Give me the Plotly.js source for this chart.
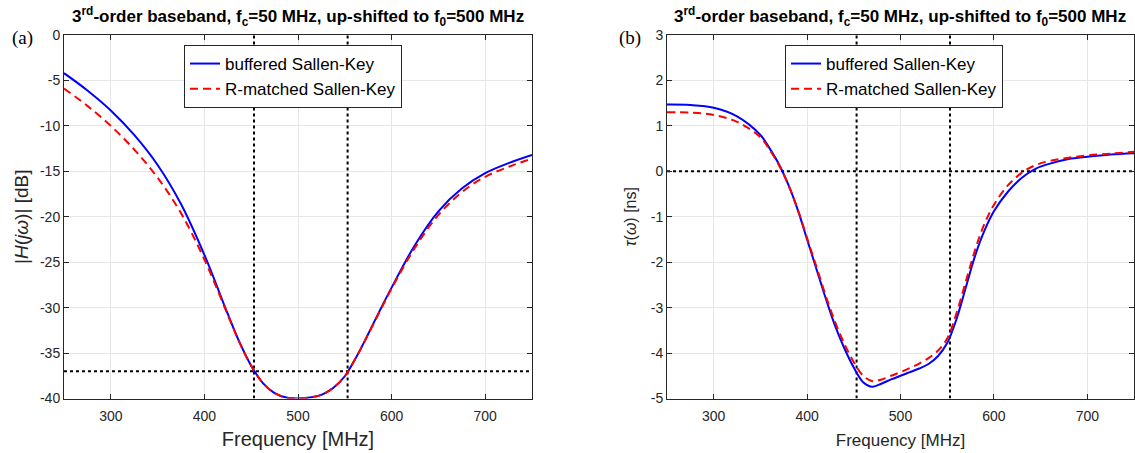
<!DOCTYPE html>
<html>
<head>
<meta charset="utf-8">
<script src="https://cdn.plot.ly/plotly-3.0.1.min.js"></script>
<style>html,body{margin:0;padding:0;background:#fff;}#plot{width:1135px;height:453px;}</style>
</head>
<body>
<div id="plot"></div>
<script>
// ---- data ----
const freqMag = [250, 275, 300, 325, 350, 375, 400, 425, 437.5, 450, 462.5, 475, 487.5, 500, 512.5, 525, 537.5, 550, 562.5, 575, 587.5, 600, 625, 650, 675, 700, 725, 750];
const magBuffered = [-4.2, -6.1, -8.3, -11.0, -14.3, -18.6, -24.2, -30.7, -33.8, -36.4, -38.3, -39.4, -39.9, -40.0, -39.9, -39.6, -38.85, -37.55, -35.4, -32.9, -30.3, -27.8, -23.1, -19.4, -16.9, -15.2, -14.1, -13.2];
const magRmatched = [-5.9, -7.8, -10.0, -12.6, -15.7, -19.6, -24.7, -30.8, -33.85, -36.4, -38.3, -39.4, -39.9, -40.0, -39.9, -39.6, -38.85, -37.55, -35.4, -32.95, -30.4, -27.9, -23.4, -19.8, -17.3, -15.6, -14.5, -13.6];

const freqDelay = [250, 275, 300, 325, 350, 360, 370, 380, 390, 400, 410, 420, 430, 440, 450, 460, 470, 480, 490, 500, 510, 520, 530, 540, 550, 560, 570, 580, 590, 600, 615, 630, 645, 660, 680, 700, 725, 750];
const delayBuffered = [1.47, 1.46, 1.40, 1.21, 0.80, 0.50, 0.15, -0.30, -0.85, -1.50, -2.15, -2.80, -3.40, -3.90, -4.32, -4.64, -4.74, -4.67, -4.58, -4.50, -4.42, -4.34, -4.24, -4.07, -3.78, -3.25, -2.55, -1.85, -1.30, -0.88, -0.45, -0.14, 0.06, 0.17, 0.27, 0.32, 0.37, 0.40];
const delayRmatched = [1.30, 1.29, 1.24, 1.09, 0.75, 0.47, 0.13, -0.30, -0.84, -1.47, -2.10, -2.74, -3.32, -3.80, -4.20, -4.50, -4.62, -4.58, -4.50, -4.42, -4.33, -4.23, -4.11, -3.95, -3.68, -3.12, -2.42, -1.72, -1.15, -0.74, -0.31, -0.03, 0.14, 0.23, 0.30, 0.35, 0.39, 0.43];

const markerFreqs = [453, 553];       // vertical dotted markers
const magLevel = -37;                 // horizontal dotted marker, left panel
const delayLevel = 0;                 // horizontal dotted marker, right panel

const xTicks = [300, 400, 500, 600, 700];
const magTicks = [0, -5, -10, -15, -20, -25, -30, -35, -40];
const magTickText = ['0', '-5', '-10', '-15', '-20', '-25', '-30', '-35', '-40'];
const delayTicks = [3, 2, 1, 0, -1, -2, -3, -4, -5];
const delayTickText = ['3', '2', '1', '0', '-1', '-2', '-3', '-4', '-5'];

const seriesNames = ['buffered Sallen-Key', 'R-matched Sallen-Key'];
const titleText = '3<sup>rd</sup>-order baseband, f<sub>c</sub>=50 MHz, up-shifted to f<sub>0</sub>=500 MHz';

// ---- styles ----
const blue = '#0000ff', red = '#ff0000';
const dotLine = {color: '#000000', width: 2, dash: 'dot'};
const SANS = 'Liberation Sans, Arial, sans-serif';
const tickFont = {family: SANS, size: 14, color: '#262626'};

function vlines(xa, ya, yr) {
  return markerFreqs.map(f => ({x: [f, f], y: yr, xaxis: xa, yaxis: ya, mode: 'lines', line: dotLine, showlegend: false, hoverinfo: 'skip'}));
}

const traces = [
  ...vlines('x', 'y', [-40, 0]),
  {x: [250, 750], y: [magLevel, magLevel], xaxis: 'x', yaxis: 'y', mode: 'lines', line: dotLine, showlegend: false},
  {x: freqMag, y: magBuffered, xaxis: 'x', yaxis: 'y', mode: 'lines', name: seriesNames[0], line: {color: blue, width: 2, shape: 'spline', smoothing: 1}, legend: 'legend'},
  {x: freqMag, y: magRmatched, xaxis: 'x', yaxis: 'y', mode: 'lines', name: seriesNames[1], line: {color: red, width: 2, dash: '8px,5px', shape: 'spline', smoothing: 1}, legend: 'legend'},
  ...vlines('x2', 'y2', [-5, 3]),
  {x: [250, 750], y: [delayLevel, delayLevel], xaxis: 'x2', yaxis: 'y2', mode: 'lines', line: dotLine, showlegend: false},
  {x: freqDelay, y: delayBuffered, xaxis: 'x2', yaxis: 'y2', mode: 'lines', name: seriesNames[0], line: {color: blue, width: 2, shape: 'spline', smoothing: 1}, legend: 'legend2'},
  {x: freqDelay, y: delayRmatched, xaxis: 'x2', yaxis: 'y2', mode: 'lines', name: seriesNames[1], line: {color: red, width: 2, dash: '8px,5px', shape: 'spline', smoothing: 1}, legend: 'legend2'}
];

const W = 1135, H = 453;
const yDom = [1 - 398.5 / H, 1 - 35 / H];
function xaxisDef(dom) {
  return {domain: dom, range: [250, 750], tickvals: xTicks, ticks: 'inside', ticklen: 5, tickcolor: '#262626',
    showline: true, linecolor: '#262626', linewidth: 1, mirror: 'ticks', showgrid: true, gridcolor: '#e6e6e6',
    zeroline: false, tickfont: tickFont, ticklabelstandoff: 5, fixedrange: true};
}
function yaxisDef(range, ticks, text, anchor) {
  return {domain: yDom, range: range, tickvals: ticks, ticktext: text, ticks: 'inside', ticklen: 5, tickcolor: '#262626', anchor: anchor,
    showline: true, linecolor: '#262626', linewidth: 1, mirror: 'ticks', showgrid: true, gridcolor: '#e6e6e6',
    zeroline: false, tickfont: tickFont, fixedrange: true};
}

const xa1 = xaxisDef([64 / W, 532 / W]);
xa1.title = {text: 'Frequency [MHz]', font: {family: SANS, size: 20, color: '#262626'}, standoff: 8};
const xa2 = xaxisDef([667 / W, 1134 / W]);
xa2.anchor = 'y2';
xa2.title = {text: 'Frequency [MHz]', font: {family: SANS, size: 17, color: '#262626'}, standoff: 10};
const ya1 = yaxisDef([-40, 0], magTicks, magTickText, 'x');
ya1.title = {text: '|<i>H</i>(<i>j\u03c9</i>)| [dB]', font: {family: SANS, size: 19, color: '#262626'}, standoff: 6};
const ya2 = yaxisDef([-5, 3], delayTicks, delayTickText, 'x2');
ya2.title = {text: '<i>\u03c4</i>(<i>\u03c9</i>) [ns]', font: {family: SANS, size: 16, color: '#262626'}, standoff: 10};

const legendBase = {bgcolor: '#ffffff', bordercolor: '#262626', borderwidth: 1,
  font: {family: SANS, size: 17, color: '#000000'},
  xanchor: 'left', yanchor: 'top', tracegroupgap: 0, itemwidth: 30};

const titleFont = {family: SANS, size: 17, color: '#000000', weight: 'bold'};
const layout = {
  width: W, height: H, margin: {l: 0, r: 0, t: 0, b: 0},
  paper_bgcolor: '#ffffff', plot_bgcolor: '#ffffff',
  xaxis: xa1, yaxis: ya1, xaxis2: xa2, yaxis2: ya2,
  legend: Object.assign({x: 184 / W, y: 1 - 45 / H}, legendBase),
  legend2: Object.assign({x: 785 / W, y: 1 - 45 / H}, legendBase),
  annotations: [
    {text: titleText, xref: 'paper', yref: 'paper', x: 298 / W, y: 1 - 17 / H, showarrow: false, xanchor: 'center', yanchor: 'middle', font: titleFont},
    {text: titleText, xref: 'paper', yref: 'paper', x: 900 / W, y: 1 - 17 / H, showarrow: false, xanchor: 'center', yanchor: 'middle', font: titleFont},
    {text: '(a)', xref: 'paper', yref: 'paper', x: 22 / W, y: 1 - 38 / H, showarrow: false, xanchor: 'center', yanchor: 'middle',
      font: {family: 'Liberation Serif, Times New Roman, serif', size: 19, color: '#000000'}},
    {text: '(b)', xref: 'paper', yref: 'paper', x: 630 / W, y: 1 - 38 / H, showarrow: false, xanchor: 'center', yanchor: 'middle',
      font: {family: 'Liberation Serif, Times New Roman, serif', size: 19, color: '#000000'}}
  ],
  showlegend: true
};

Plotly.newPlot('plot', traces, layout, {staticPlot: true, displayModeBar: false});
</script>
</body>
</html>
